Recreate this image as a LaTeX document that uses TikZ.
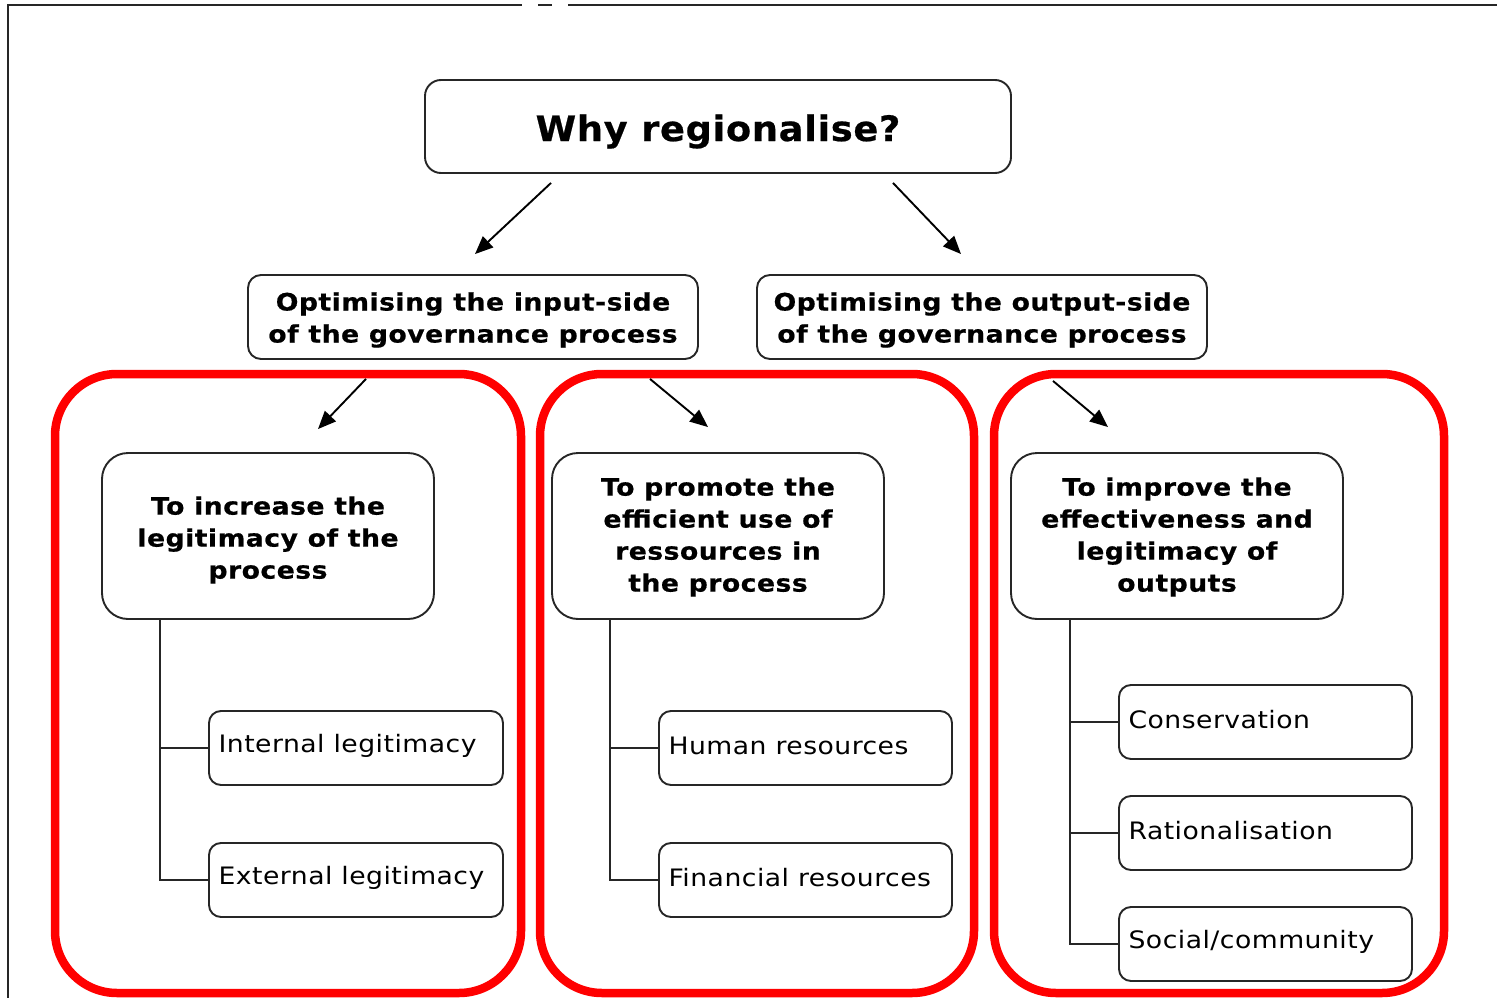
\documentclass[tikz,border=0pt]{standalone}
\usepackage{fontspec}
\setmainfont{DejaVu Sans}
\newfontfamily\titlefont[FakeStretch=1.05,LetterSpace=2,BoldFeatures={FakeBold=0.6}]{DejaVu Sans}
\newfontfamily\widefont[FakeStretch=1.11,LetterSpace=2,BoldFeatures={FakeBold=0.6}]{DejaVu Sans}
\usetikzlibrary{arrows.meta,calc}
\begin{document}
\begin{tikzpicture}[x=1pt,y=-1pt,
  box/.style={draw=black!85,line width=1.9pt,fill=white,rounded corners=#1,inner sep=0pt},
  box/.default=14pt,
  headtxt/.style={font=\widefont\bfseries\fontsize{24}{32}\selectfont,align=center},
  leaftxt/.style={font=\widefont\fontsize{24}{27}\selectfont,anchor=west},
  frame/.style={draw=red,line width=8.5pt,rounded corners=62pt},
  link/.style={line width=1.9pt,-{Triangle[length=18pt,width=15pt]}},
  tree/.style={line width=1.9pt,black!85}]
\useasboundingbox (0,0) rectangle (1497,998);

% page edge lines
\draw[line width=2pt,black!85] (7,5) -- (522,5);
\draw[line width=2pt,black!85] (538,5) -- (552,5);
\draw[line width=2pt,black!85] (568,5) -- (1497,5);
\draw[line width=2pt,black!85] (8,5) -- (8,998);

% red group frames
\draw[frame] (55,374) rectangle (521,993);
\draw[frame] (540,374) rectangle (974,993);
\draw[frame] (994,374) rectangle (1444,993);

% question
\node[box=16pt,minimum width=586pt,minimum height=93pt] (why) at (718,126.5) {};
\node[font=\titlefont\bfseries\fontsize{35}{40}\selectfont] at ($(why.center)+(0,5)$) {Why regionalise?};

% two sides
\node[box=13pt,minimum width=450pt,minimum height=84pt] (inp) at (473,317) {};
\node[headtxt] at ($(inp.center)+(0,3)$) {Optimising the input-side\\of the governance process};
\node[box=13pt,minimum width=450pt,minimum height=84pt] (outp) at (982,317) {};
\node[headtxt] at ($(outp.center)+(0,3)$) {Optimising the output-side\\of the governance process};

% objectives
\node[box=26pt,minimum width=332pt,minimum height=166pt] (legit) at (268,536) {};
\node[headtxt] at ($(legit.center)+(0,4)$) {To increase the\\legitimacy of the\\process};
\node[box=26pt,minimum width=332pt,minimum height=166pt] (eff) at (718,536) {};
\node[headtxt] at ($(eff.center)+(0,1)$) {To promote the\\efficient use of\\ressources in\\the process};
\node[box=26pt,minimum width=332pt,minimum height=166pt] (outc) at (1177,536) {};
\node[headtxt] at ($(outc.center)+(0,1)$) {To improve the\\effectiveness and\\legitimacy of\\outputs};

% leaves
\node[box=12pt,minimum width=294pt,minimum height=74pt] (il) at (356,748) {};
\node[leaftxt] at ($(il.west)+(7,-2)$) {Internal legitimacy};
\node[box=12pt,minimum width=294pt,minimum height=74pt] (el) at (356,880) {};
\node[leaftxt] at ($(el.west)+(7,-2)$) {External legitimacy};

\node[box=12pt,minimum width=293pt,minimum height=74pt] (hr) at (805.5,748) {};
\node[leaftxt] at ($(hr.west)+(7,-2)$) {Human resources};
\node[box=12pt,minimum width=293pt,minimum height=74pt] (fr) at (805.5,880) {};
\node[leaftxt] at ($(fr.west)+(7,-2)$) {Financial resources};

\node[box=12pt,minimum width=293pt,minimum height=74pt] (cons) at (1265.5,722) {};
\node[leaftxt] at ($(cons.west)+(7,-2)$) {Conservation};
\node[box=12pt,minimum width=293pt,minimum height=74pt] (rat) at (1265.5,833) {};
\node[leaftxt] at ($(rat.west)+(7,-2)$) {Rationalisation};
\node[box=12pt,minimum width=293pt,minimum height=74pt] (soc) at (1265.5,944) {};
\node[leaftxt] at ($(soc.west)+(7,-2)$) {Social/community};

% arrows
\draw[link] ($(why.south)+(-167,9)$) -- ($(inp.north)+(2,-20)$);
\draw[link] ($(why.south)+(175,9)$) -- ($(outp.north)+(-21,-20)$);
\draw[link] ($(inp.south)+(-107,19)$) -- ($(legit.north)+(50,-23)$);
\draw[link] ($(inp.south)+(177,19)$) -- ($(eff.north)+(-10,-25)$);
\draw[link] ($(outp.south)+(71,21)$) -- ($(outc.north)+(-69,-25)$);

% tree connectors
\draw[tree] ($(legit.south west)+(59,0)$) |- (il.west);
\draw[tree] ($(legit.south west)+(59,0)$) |- (el.west);
\draw[tree] ($(eff.south west)+(59,0)$) |- (hr.west);
\draw[tree] ($(eff.south west)+(59,0)$) |- (fr.west);
\draw[tree] ($(outc.south west)+(60,0)$) |- (cons.west);
\draw[tree] ($(outc.south west)+(60,0)$) |- (rat.west);
\draw[tree] ($(outc.south west)+(60,0)$) |- (soc.west);
\end{tikzpicture}
\end{document}
